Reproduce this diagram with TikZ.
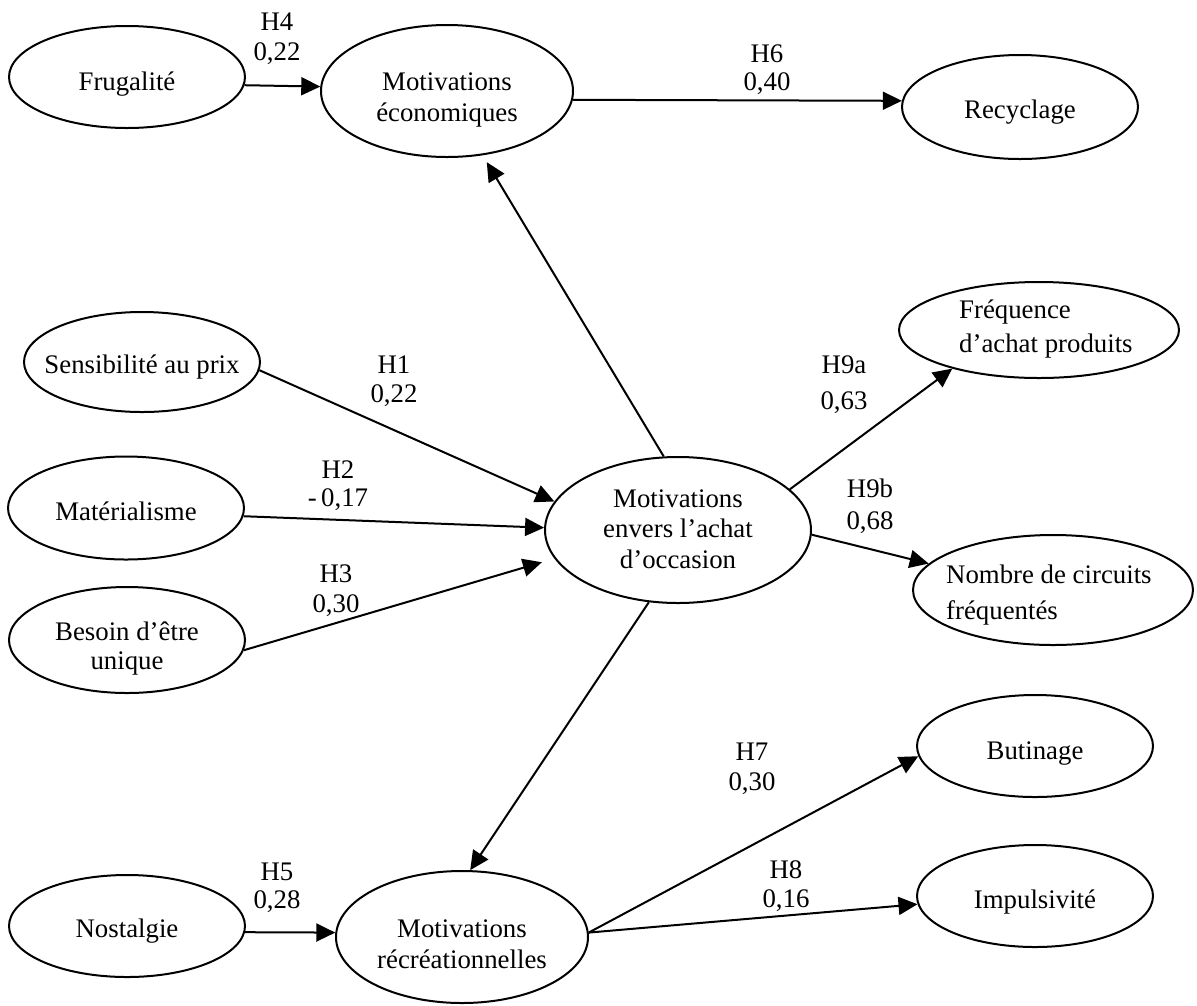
\documentclass[tikz,border=0pt]{standalone}
\usepackage{fontspec}
\setmainfont{Liberation Serif}
\usetikzlibrary{shapes.geometric,arrows.meta}
\begin{document}
\begin{tikzpicture}[x=1pt,y=-1pt,
  ell/.style={draw, line width=2pt, ellipse, inner sep=0pt},
  txt/.style={font=\fontsize{26.8}{30.5}\selectfont, align=center, inner sep=0pt, anchor=base},
  lab/.style={font=\fontsize{26.8}{30}\selectfont, align=center, inner sep=0pt, anchor=base},
  arr/.style={line width=2pt, -{Triangle[length=19pt,width=18pt]}}]
\useasboundingbox (0,0) rectangle (1197,1005);
% ellipses
\node[ell, minimum width=236pt, minimum height=102pt] (fru) at (127,77) {};
\node[ell, minimum width=252pt, minimum height=132pt] (me) at (447,91) {};
\node[ell, minimum width=236pt, minimum height=104pt] (rec) at (1020,107) {};
\node[ell, minimum width=236pt, minimum height=100pt] (sen) at (142,362) {};
\node[ell, minimum width=236pt, minimum height=103pt] (mat) at (126,508) {};
\node[ell, minimum width=236pt, minimum height=106pt] (bes) at (127,640) {};
\node[ell, minimum width=266pt, minimum height=146pt] (cen) at (678,530) {};
\node[ell, minimum width=280pt, minimum height=96pt] (fre) at (1039,330) {};
\node[ell, minimum width=280pt, minimum height=110pt] (nom) at (1053,590) {};
\node[ell, minimum width=236pt, minimum height=102pt] (nos) at (127,926) {};
\node[ell, minimum width=252pt, minimum height=132pt] (rc) at (462,937) {};
\node[ell, minimum width=236pt, minimum height=102pt] (but) at (1035,746) {};
\node[ell, minimum width=236pt, minimum height=102pt] (imp) at (1035,896) {};
% texts (anchor=base is the baseline of the last line)
\node[txt] (tfru) at (127,90) {Frugalité};
\node[txt, font=\fontsize{26.8}{31}\selectfont] (tme) at (447,121) {Motivations\\économiques};
\node[txt] (trec) at (1020,118) {Recyclage};
\node[txt] (tsen) at (142,373) {Sensibilité au prix};
\node[txt] (tmat) at (126,520) {Matérialisme};
\node[txt, font=\fontsize{26.8}{29}\selectfont] (tbes) at (127,669) {Besoin d’être\\unique};
\node[txt] (tcen) at (678,568) {Motivations\\envers l’achat\\d’occasion};
\node[txt, align=left, anchor=base west, font=\fontsize{26.8}{34}\selectfont] (tfre) at (959,352) {Fréquence\\d’achat produits};
\node[txt, align=left, anchor=base west, font=\fontsize{26.8}{36}\selectfont] (tnom) at (946,619) {Nombre de circuits\\fréquentés};
\node[txt] (tnos) at (127,937) {Nostalgie};
\node[txt, font=\fontsize{26.8}{31}\selectfont] (trc) at (462,968) {Motivations\\récréationnelles};
\node[txt] (tbut) at (1035,759) {Butinage};
\node[txt] (timp) at (1035,908) {Impulsivité};
% labels
\node[lab] (lH4) at (277,60) {H4\\0,22};
\node[lab, font=\fontsize{26.8}{28}\selectfont] (lH6) at (767,90) {H6\\0,40};
\node[lab, font=\fontsize{26.8}{29}\selectfont] (lH1) at (394,402) {H1\\0,22};
\node[lab, font=\fontsize{26.8}{28}\selectfont] (lH2) at (338,506) {H2\\-\,0,17};
\node[lab] (lH3) at (336,612) {H3\\0,30};
\node[lab, font=\fontsize{26.8}{36}\selectfont] (lH9a) at (844,409) {H9a\\0,63};
\node[lab, font=\fontsize{26.8}{32}\selectfont] (lH9b) at (870,529) {H9b\\0,68};
\node[lab, font=\fontsize{26.8}{28}\selectfont] (lH5) at (277,908) {H5\\0,28};
\node[lab] (lH7) at (752,790) {H7\\0,30};
\node[lab, font=\fontsize{26.8}{29}\selectfont] (lH8) at (786,907) {H8\\0,16};
% connectors
\draw[arr] (fru.-4) -- (me.178);
\draw[arr] (me.-4) -- (rec.177);
\draw[arr] (sen.-4) -- (cen.167);
\draw[arr] (mat.-4) -- (cen.179);
\draw[arr, shorten >=13pt] (bes.-5) -- (cen.193);
\draw[arr, shorten >=8pt] (cen.101) -- (me.-61);
\draw[arr] (cen.248) -- (rc.83);
\draw[arr] (cen.20) -- (fre.204);
\draw[arr] (cen.-2) -- (nom.168);
\draw[arr] (nos.-3) -- (rc.178);
\draw[arr] (rc.2) -- (but.185);
\draw[arr] (rc.2) -- (imp.184);
\end{tikzpicture}
\end{document}
